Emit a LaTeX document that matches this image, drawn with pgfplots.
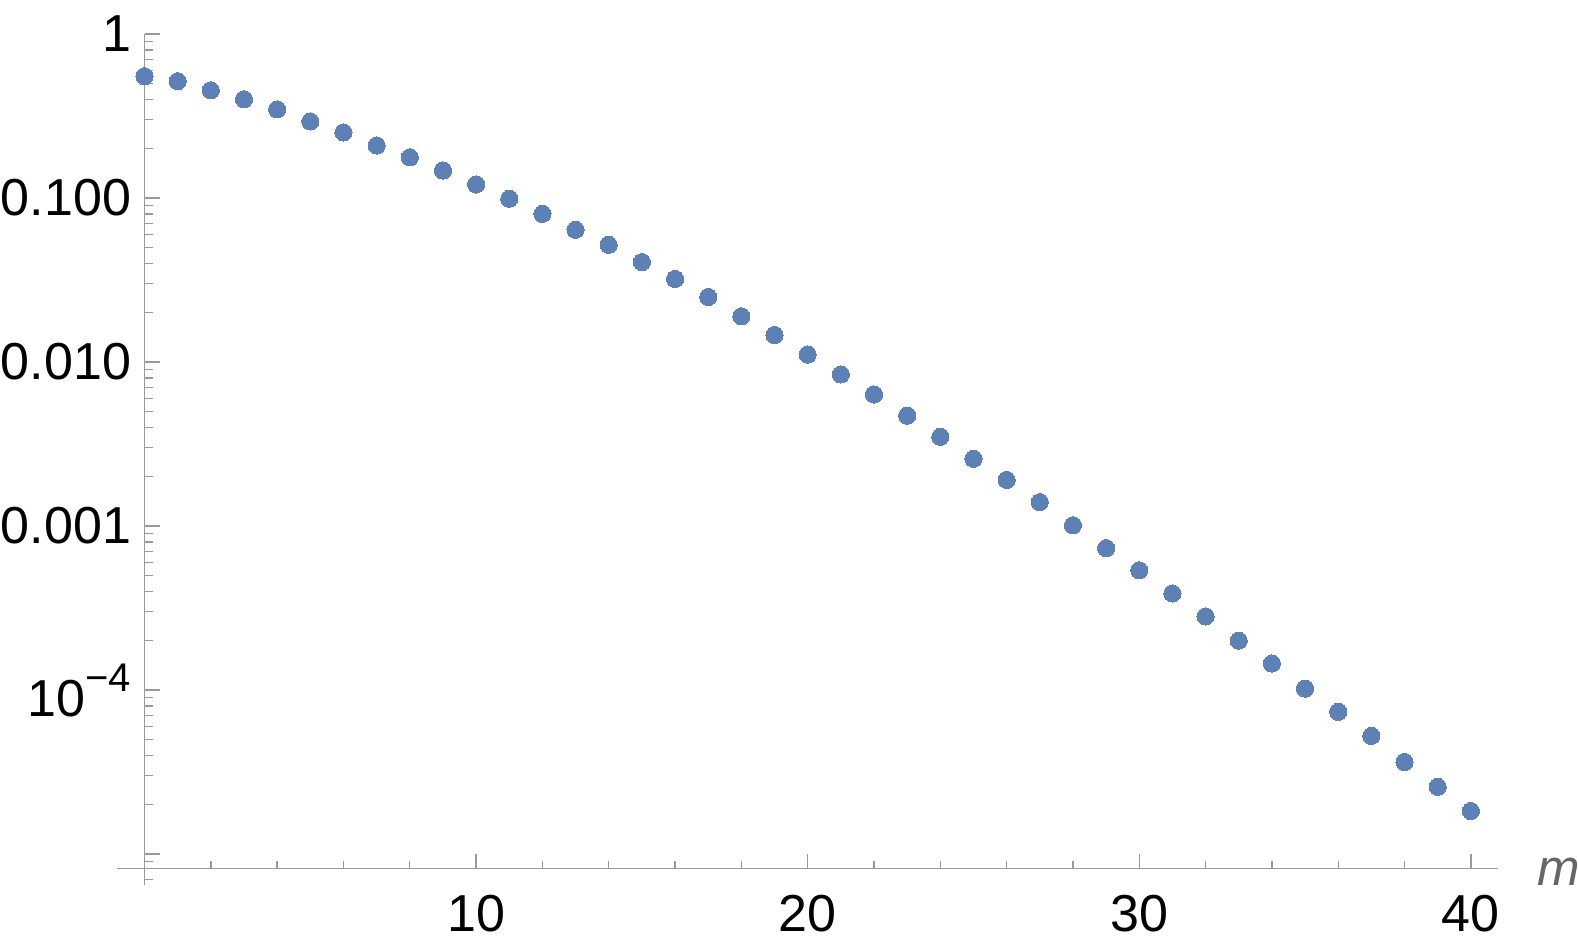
\documentclass[border=0pt]{standalone}
\usepackage{fontspec}
\setmainfont{Liberation Sans}
\usepackage{pgfplots}
\pgfplotsset{compat=1.18}
\definecolor{pt}{rgb}{0.368,0.507,0.710}
\definecolor{ax}{gray}{0.6}
\definecolor{lab}{gray}{0.4}
\begin{document}
\begin{tikzpicture}[x=1pt,y=1pt]
\path[use as bounding box] (-58.5,-41.25) rectangle (730.5,434.25);
\begin{axis}[at={(0,0)}, anchor=south west, scale only axis,
  width=690.5pt, height=417.25pt,
  xmin=-0.83, xmax=40.82, ymode=log, ymin=8.16e-6, ymax=1,
  axis x line=bottom, axis y line=middle,
  x axis line style={-}, y axis line style={-},
  axis line style={draw=ax, line width=0.7pt},
  tick align=inside,
  tick style={draw=ax, line width=0.7pt},
  major tick length=7.5pt, minor tick length=4pt,
  xtick={0,10,20,30,40}, xticklabels={,10,20,30,40},
  minor x tick num=4,
  ytick={1,0.1,0.01,0.001,1e-4,1e-5},
  minor ytick={9e-6,
    2e-5,3e-5,4e-5,5e-5,6e-5,7e-5,8e-5,9e-5,
    2e-4,3e-4,4e-4,5e-4,6e-4,7e-4,8e-4,9e-4,
    2e-3,3e-3,4e-3,5e-3,6e-3,7e-3,8e-3,9e-3,
    2e-2,3e-2,4e-2,5e-2,6e-2,7e-2,8e-2,9e-2,
    2e-1,3e-1,4e-1,5e-1,6e-1,7e-1,8e-1,9e-1},
  yticklabels={1,0.100,0.010,0.001,{10\raisebox{12.5pt}{\fontsize{20}{20}\selectfont −4}},},
  ticklabel style={font=\fontsize{26}{30}\selectfont, text=black, inner sep=0pt},
  xticklabel style={anchor=north, yshift=-13.25pt},
  yticklabel style={anchor=east, xshift=-6.5pt},
  xlabel={\textit{m}},
  xlabel style={at={(axis description cs:1,0)}, anchor=base west, xshift=19.5pt, yshift=-8.25pt, font=\fontsize{25.5}{30}\selectfont, text=lab, inner sep=0pt},
  clip=false,
]
\addplot[only marks, mark=*, mark size=4.3pt, draw=pt, fill=pt, mark options={draw=pt, fill=pt, line width=0pt}] coordinates {
(0,0.553) (1,0.515) (2,0.454) (3,0.400) (4,0.347) (5,0.293) (6,0.251) (7,0.209)
(8,0.177) (9,0.147) (10,0.121) (11,0.099) (12,0.080) (13,0.064) (14,0.0518)
(15,0.0407) (16,0.0321) (17,0.0249) (18,0.0190) (19,0.0146) (20,0.0111)
(21,0.0084) (22,0.00634) (23,0.00471) (24,0.00350) (25,0.00257) (26,0.00191)
(27,0.00140) (28,0.00101) (29,0.000733) (30,0.000537) (31,0.000388)
(32,0.000281) (33,0.000200) (34,0.000145) (35,0.000102) (36,7.36e-5)
(37,5.25e-5) (38,3.64e-5) (39,2.57e-5) (40,1.83e-5)
};
\coordinate (o) at (axis cs:0,8.16e-6);
\end{axis}
\draw[ax, line width=0.7pt] (o) -- ++(0,-8.25);
\draw[ax, line width=0.7pt] ([yshift=-5.5pt]o) -- ++(4,0);
\end{tikzpicture}
\end{document}
